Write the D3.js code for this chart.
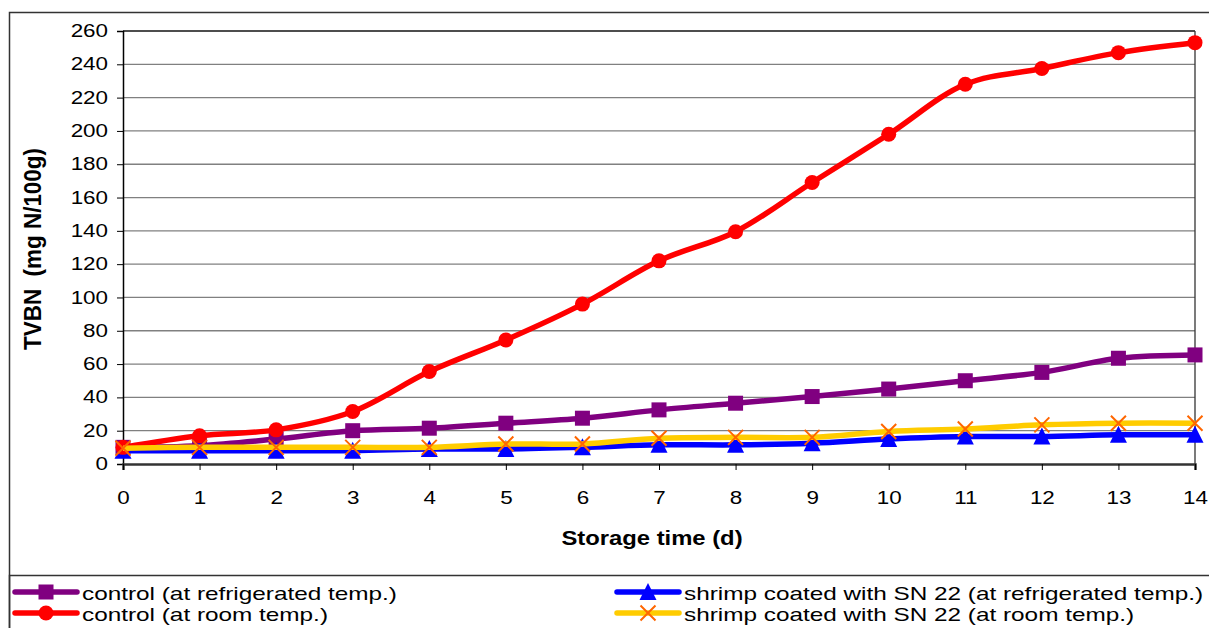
<!DOCTYPE html>
<html><head><meta charset="utf-8">
<script src="https://cdn.jsdelivr.net/npm/d3@7/dist/d3.min.js"></script>
<style>body{margin:0;background:#fff;} text{font-family:"Liberation Sans",Arial,sans-serif;}</style>
</head><body>
<svg id="c" width="1209" height="628"></svg>
<script>
const days = [0,1,2,3,4,5,6,7,8,9,10,11,12,13,14];
const controlRefrig = [10,11,15,20,21.5,24.5,27.5,32.5,36.5,40.5,45,50,55,63.5,65.5];
const coatedRefrig  = [8,8,8,8,9,9,10,11.5,11.5,12.5,15,16.5,16.5,17.5,17.5];
const controlRoom   = [10,17,20.5,31.5,55.5,74.5,96,122,139.5,169,198,228,237.5,247,253];
const coatedRoom    = [9.5,10,10,10,10,12,12,15.5,16,16,19.5,21,23.5,24.5,24.5];
const yTicks = [0,20,40,60,80,100,120,140,160,180,200,220,240,260];
const seriesNames = ["control (at refrigerated temp.)","shrimp coated with SN 22 (at refrigerated temp.)","control (at room temp.)","shrimp coated with SN 22 (at room temp.)"];

const svg = d3.select("#c");
const L=123, R=1195, T=31, B=464;
const x = d3.scaleLinear().domain([0,14]).range([L,R]);
const y = d3.scaleLinear().domain([0,260]).range([B,T]);
const STRETCH = 1.28;
function stretch(sel, f){
  sel.each(function(){
    const w = this.getComputedTextLength();
    d3.select(this).attr("textLength", w*(f||STRETCH)).attr("lengthAdjust","spacingAndGlyphs");
  });
}

// outer border
svg.append("rect").attr("x",9.5).attr("y",12.5).attr("width",1230).attr("height",700).attr("fill","none").attr("stroke","#333").attr("stroke-width",1.5);
// legend box
svg.append("rect").attr("x",9.5).attr("y",575.5).attr("width",1230).attr("height",100).attr("fill","none").attr("stroke","#333").attr("stroke-width",1.5);

// grid
svg.append("g").selectAll("line").data(yTicks.filter(d=>d>0)).join("line")
  .attr("x1",L).attr("x2",R).attr("y1",d=>y(d)).attr("y2",d=>y(d))
  .attr("stroke","#808080").attr("stroke-width",1.3);
svg.append("line").attr("x1",L).attr("x2",R).attr("y1",T).attr("y2",T).attr("stroke","#333").attr("stroke-width",1.3);
svg.append("line").attr("x1",R).attr("x2",R).attr("y1",T).attr("y2",B).attr("stroke","#333").attr("stroke-width",1.3);

// axes
const yAx = svg.append("g").attr("transform",`translate(${L},0)`)
  .call(d3.axisLeft(y).tickValues(yTicks).tickSize(6).tickPadding(9));
yAx.select(".domain").attr("stroke","#000").attr("stroke-width",1.5);
yAx.selectAll(".tick line").attr("stroke","#000");
yAx.selectAll("text").attr("font-size",17.5).attr("fill","#000").style("font-family","Liberation Sans, Arial, sans-serif").call(stretch);

const xAx = svg.append("g").attr("transform",`translate(0,${B})`)
  .call(d3.axisBottom(x).tickValues(days).tickSize(6).tickPadding(22).tickFormat(d3.format("d")));
xAx.select(".domain").attr("stroke","#333").attr("stroke-width",2.5);
xAx.selectAll(".tick line").attr("stroke","#000");
xAx.selectAll("text").attr("font-size",17.5).attr("fill","#000").style("font-family","Liberation Sans, Arial, sans-serif").call(stretch);

svg.append("text").attr("x",652).attr("y",545).attr("text-anchor","middle")
  .attr("font-size",20).attr("font-weight","bold").text("Storage time (d)").call(stretch, 1.19);
svg.append("text").attr("transform","translate(41,249) scale(1.15,1) rotate(-90)").attr("text-anchor","middle")
  .attr("font-size",20).attr("font-weight","bold").attr("xml:space","preserve").text("TVBN  (mg N/100g)")
  .attr("textLength",202).attr("lengthAdjust","spacingAndGlyphs");

const line = d3.line().x((d,i)=>x(days[i])).y(d=>y(d)).curve(d3.curveCatmullRom.alpha(0.5));

function marker(g, type, cx, cy){
  if(type==="square"){
    g.append("rect").attr("x",cx-7.5).attr("y",cy-7.5).attr("width",15).attr("height",15).attr("fill","#800080");
  } else if(type==="circle"){
    g.append("circle").attr("cx",cx).attr("cy",cy).attr("r",7.5).attr("fill","#ff0000");
  } else if(type==="tri"){
    g.append("path").attr("d",`M${cx},${cy-9}L${cx+8.5},${cy+8}L${cx-8.5},${cy+8}Z`).attr("fill","#0000ff");
  } else if(type==="x"){
    g.append("path").attr("d",`M${cx-7.5},${cy-7.5}L${cx+7.5},${cy+7.5}M${cx+7.5},${cy-7.5}L${cx-7.5},${cy+7.5}`)
      .attr("stroke","#ff6600").attr("stroke-width",2).attr("fill","none");
  }
}

const series = [
  {vals:controlRefrig, color:"#800080", m:"square"},
  {vals:coatedRefrig, color:"#0000ff", m:"tri"},
  {vals:controlRoom, color:"#ff0000", m:"circle"},
  {vals:coatedRoom, color:"#ffcc00", m:"x"}
];
series.forEach(s=>{
  const g = svg.append("g");
  g.append("path").attr("d",line(s.vals)).attr("fill","none").attr("stroke",s.color).attr("stroke-width",5.5).attr("stroke-linejoin","round");
  s.vals.forEach((v,i)=>marker(g,s.m,x(days[i]),y(v)));
});

// legend
const legPos = [[15,592],[617,592],[15,613],[617,613]];
series.forEach((s,i)=>{
  const [lx,ly] = legPos[i];
  const g = svg.append("g");
  g.append("line").attr("x1",lx).attr("x2",lx+62).attr("y1",ly).attr("y2",ly).attr("stroke",s.color).attr("stroke-width",5.5).attr("stroke-linecap","round");
  marker(g,s.m,lx+31,ly);
  g.append("text").attr("x",lx+67).attr("y",ly+7.5).attr("font-size",19).attr("fill","#000").text(seriesNames[i]).call(stretch);
});
</script>
</body></html>
